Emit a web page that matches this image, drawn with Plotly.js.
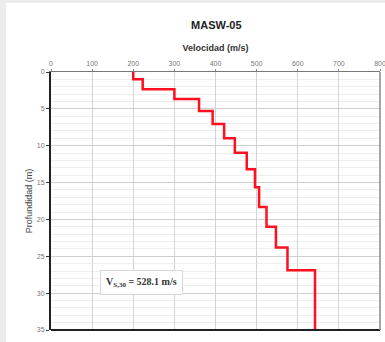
<!DOCTYPE html>
<html><head><meta charset="utf-8">
<script src="https://cdn.plot.ly/plotly-3.0.1.min.js"></script>
<style>
html,body{margin:0;padding:0;background:#ececec;width:385px;height:342px;overflow:hidden}
#chart{position:absolute;left:6px;top:3px;width:379px;height:339px;background:#fff}
</style></head><body>
<div id="chart"></div>
<script>
// Layer profile (depth in m, velocity in m/s)
const layerTop    = [0, 1.0, 2.35, 3.66, 5.3, 7.06, 9.0, 10.95, 13.2, 15.65, 18.3, 21.0, 23.8, 26.9];
const layerBottom = [1.0, 2.35, 3.66, 5.3, 7.06, 9.0, 10.95, 13.2, 15.65, 18.3, 21.0, 23.8, 26.9, 35];
const velocity    = [200, 223, 300, 360, 393, 421, 447, 476, 496, 506, 524, 547, 575, 642];
const xTicks = [0,100,200,300,400,500,600,700,800];
const yTicks = [0,5,10,15,20,25,30,35];
const vs30Label = '<b>V<sub>S,30</sub> = 528.1 m/s</b>';

const xs = [], ys = [];
for (let i = 0; i < velocity.length; i++) {
  xs.push(velocity[i], velocity[i]);
  ys.push(layerTop[i], layerBottom[i]);
}

const font = 'Liberation Sans, Arial, sans-serif';
Plotly.newPlot('chart', [{
  x: xs, y: ys, type: 'scatter', mode: 'lines',
  line: {color: '#ff1020', width: 2.5}, hoverinfo: 'skip'
}], {
  width: 379, height: 339,
  margin: {l: 45, r: 5, t: 69, b: 12},
  paper_bgcolor: '#ffffff', plot_bgcolor: '#ffffff',
  showlegend: false,
  title: {text: '<b>MASW-05</b>', font: {family: font, size: 11, color: '#222'}, x: 0.555, xanchor: 'center', y: 0.935, yanchor: 'middle'},
  xaxis: {
    side: 'top', range: [0, 800], tickvals: xTicks, ticktext: xTicks.map(String),
    tickfont: {family: font, size: 7, color: '#777'}, ticklabeloverflow: 'allow',
    ticks: 'outside', ticklen: 2, tickcolor: '#888',
    showgrid: true, gridcolor: '#d4d4d4', gridwidth: 1,
    showline: true, linecolor: '#777', linewidth: 1.5, zeroline: false,
    title: {text: '<b>Velocidad (m/s)</b>', font: {family: font, size: 9, color: '#333'}, standoff: 6}
  },
  yaxis: {
    range: [35, 0], tickvals: yTicks, ticktext: yTicks.map(String),
    tickfont: {family: font, size: 7, color: '#777'}, ticklabeloverflow: 'allow',
    ticks: 'outside', ticklen: 3, tickcolor: '#333',
    showgrid: true, gridcolor: '#d0d0d0', gridwidth: 1,
    minor: {dtick: 1, showgrid: true, gridcolor: '#eeeeee', gridwidth: 1, ticks: ''},
    showline: true, linecolor: '#222', linewidth: 2, zeroline: false,
    title: {text: 'Profundidad (m)', font: {family: font, size: 9, color: '#444'}, standoff: 3}
  },
  shapes: [
    {type: 'line', xref: 'paper', yref: 'paper', x0: 0, x1: 1, y0: 0, y1: 0, line: {color: '#222', width: 2}},
    {type: 'line', xref: 'paper', yref: 'paper', x0: 1, x1: 1, y0: 0, y1: 1, line: {color: '#888', width: 1.5}}
  ],
  annotations: [{
    x: 219, y: 28.6, xref: 'x', yref: 'y', text: vs30Label, showarrow: false,
    font: {family: 'Liberation Serif, Times New Roman, serif', size: 10, color: '#333'},
    bgcolor: '#ffffff', bordercolor: '#d8d8d8', borderwidth: 1, borderpad: 5
  }]
}, {displayModeBar: false, staticPlot: true});
</script>
</body></html>
